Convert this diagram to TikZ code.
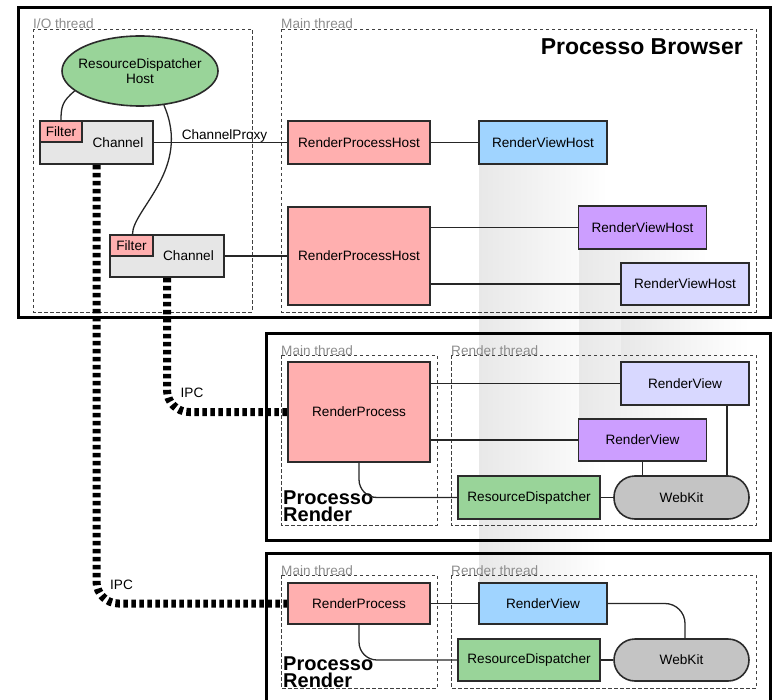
\documentclass[tikz,border=0pt]{standalone}
\usepackage{fontspec}
\setmainfont{Liberation Sans}
\usetikzlibrary{shapes.geometric}
\definecolor{procpink}{HTML}{FFAFAF}
\definecolor{viewblue}{HTML}{A0D4FF}
\definecolor{viewpurple}{HTML}{CC9EFF}
\definecolor{viewlilac}{HTML}{D8D8FF}
\definecolor{dispgreen}{HTML}{99D499}
\definecolor{chgray}{HTML}{E6E6E6}
\definecolor{kitgray}{HTML}{C4C4C4}
\definecolor{boxline}{HTML}{2B2B2B}
\begin{document}
\begin{tikzpicture}[x=1pt,y=-1pt,
	every node/.style={font=\fontsize{13.6}{15}\selectfont},
	box/.style={draw=boxline,line width=1.6pt,inner sep=0pt,align=center},
	process/.style={draw=black,line width=3pt},
	thread/.style={draw=black!75,line width=0.8pt,dash pattern=on 3.5pt off 2.5pt},
	threadlabel/.style={anchor=base west,inner sep=0pt,text=black!45},
	title/.style={font=\fontsize{20}{17}\selectfont\bfseries,align=left,inner sep=0pt},
	link/.style={draw=black!85,line width=1.3pt},
	ipc/.style={line width=8pt,dash pattern=on 4.5pt off 3.5pt},
	beam/.style={left color=black!9,right color=white}]
			\useasboundingbox (0,0) rectangle (773,700);
			\fill[beam] (479,164) rectangle (607,583);
			\fill[beam] (579,249) rectangle (707,419);
			\fill[beam] (621,305) rectangle (749,362);
			\draw[process] (18,8) rectangle (770,318);
			\draw[process] (266,333) rectangle (770,540);
			\draw[process] (266,712) -- (266,553) -- (770,553) -- (770,712);
			\draw[thread] (33,29) rectangle (252,312);
			\draw[thread] (281,29) rectangle (756,312);
			\draw[thread] (281,355) rectangle (437,525);
			\draw[thread] (451,355) rectangle (756,525);
			\draw[thread] (281,575) rectangle (437,688);
			\draw[thread] (451,575) rectangle (756,688);
			\node[threadlabel] (iolbl) at (33,29) {I/O thread};
			\node[threadlabel] (mainlbl) at (281,29) {Main thread};
			\node[threadlabel] (mainlbla) at (281,355) {Main thread};
			\node[threadlabel] (renderlbla) at (451,355) {Render thread};
			\node[threadlabel] (mainlblb) at (281,575) {Main thread};
			\node[threadlabel] (renderlblb) at (451,575) {Render thread};
			\node[title,anchor=base east,font=\fontsize{23}{25}\selectfont\bfseries] (browser) at (743,55) {Processo Browser};
			\node[title,anchor=north west] (procra) at (283,490.5) {Processo\\Render};
			\node[title,anchor=north west] (procrb) at (283,656.5) {Processo\\Render};
			\node[box,ellipse,fill=dispgreen,inner xsep=-6.5pt,minimum width=156,minimum height=70] (rdh) at (140,71) {ResourceDispatcher\\Host};
			\node[box,fill=chgray,minimum width=113,minimum height=43,label={[xshift=21.5pt]center:Channel}] (ch1) at (96.5,142.5) {};
			\node[box,fill=procpink,minimum width=42,minimum height=21] (f1) at (61,131.5) {Filter};
			\node[box,fill=chgray,minimum width=114,minimum height=42,label={[xshift=21.5pt]center:Channel}] (ch2) at (167,256) {};
			\node[box,fill=procpink,minimum width=43,minimum height=21] (f2) at (131.5,245.5) {Filter};
			\node[box,fill=procpink,minimum width=142,minimum height=43] (rph1) at (359,142.5) {RenderProcessHost};
			\node[box,fill=viewblue,minimum width=128,minimum height=43] (rvh1) at (543,142.5) {RenderViewHost};
			\node[box,fill=procpink,minimum width=142,minimum height=98] (rph2) at (359,256) {RenderProcessHost};
			\node[box,fill=viewpurple,minimum width=128,minimum height=43] (rvh2) at (642.5,227.5) {RenderViewHost};
			\node[box,fill=viewlilac,minimum width=128,minimum height=42] (rvh3) at (685,284) {RenderViewHost};
			\node[box,fill=procpink,minimum width=142,minimum height=100] (rp1) at (359,412) {RenderProcess};
			\node[box,fill=viewlilac,minimum width=128,minimum height=43] (rv1a) at (685,383.5) {RenderView};
			\node[box,fill=viewpurple,minimum width=128,minimum height=42] (rv1b) at (642.5,440) {RenderView};
			\node[box,fill=dispgreen,minimum width=142,minimum height=43] (rd1) at (529,497.5) {ResourceDispatcher};
			\node[box,fill=kitgray,rounded corners=21pt,minimum width=135,minimum height=43] (wk1) at (681.5,497.5) {WebKit};
			\node[box,fill=procpink,minimum width=142,minimum height=41] (rp2) at (359,603.5) {RenderProcess};
			\node[box,fill=viewblue,minimum width=128,minimum height=41] (rv2) at (543,603.5) {RenderView};
			\node[box,fill=dispgreen,minimum width=142,minimum height=42] (rd2) at (529,660) {ResourceDispatcher};
			\node[box,fill=kitgray,rounded corners=21pt,minimum width=135,minimum height=42] (wk2) at (681.5,660) {WebKit};
			\draw[link] (rdh.197) .. controls +(-12,10) and +(0,-14) .. (f1.north);
			\draw[link] (rdh.305) .. controls +(28,64) and +(0,-25) .. ([xshift=1pt]f2.north);
			\draw[link] (ch1) -- (rph1) node[pos=0.53,anchor=base,yshift=2.5pt,inner sep=0pt] {ChannelProxy};
			\draw[link] (ch2) -- (ch2 -| rph2.west);
			\draw[link] (rph1) -- (rvh1);
			\draw[link] (rph2.east |- rvh2.west) -- (rvh2.west);
			\draw[link] (rph2.east |- rvh3.west) -- (rvh3.west);
			\draw[link] (rp1.east |- rv1a.west) -- (rv1a.west);
			\draw[link] (rp1.east |- rv1b.west) -- (rv1b.west);
			\draw[link,rounded corners=18pt] (rp1.south) |- (rd1.west);
			\draw[link] (rd1) -- (wk1);
			\draw[link] (rv1b.south) -- (rv1b.south |- wk1.north);
			\draw[link] ([xshift=42pt]rv1a.south) -- ([xshift=42pt]rv1a.south |- wk1.north);
			\draw[link] (rp2) -- (rv2);
			\draw[link,rounded corners=20pt] (rv2.east) -| ([xshift=3.5pt]wk2.north);
			\draw[link,rounded corners=18pt] (rp2.south) |- (rd2.west);
			\draw[link] (rd2) -- (wk2);
			\draw[ipc,rounded corners=22pt] (ch2.south) |- (rp1.west) node[pos=0.5,xshift=25pt,yshift=19pt] {IPC};
			\draw[ipc,rounded corners=22pt] (ch1.south) |- (rp2.west) node[pos=0.5,xshift=25pt,yshift=19pt] {IPC};
		\end{tikzpicture}
\end{document}
